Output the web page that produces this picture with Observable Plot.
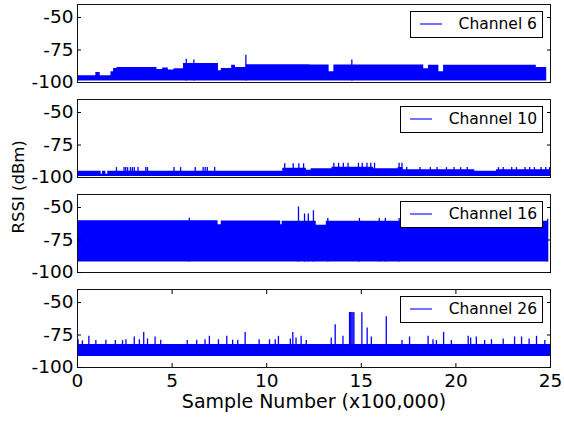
<!DOCTYPE html>
<html>
<head>
<meta charset="utf-8">
<script src="https://cdn.jsdelivr.net/npm/d3@7"></script>
<script src="https://cdn.jsdelivr.net/npm/@observablehq/plot@0.6"></script>
<style>
  body { margin: 0; background: #fff; }
  #chart { position: relative; width: 564px; height: 423px; font-family: "DejaVu Sans", sans-serif; }
  .legend {
    position: absolute; box-sizing: border-box; height: 27px;
    border: 1px solid #000; background: #fff; color: #000;
    display: flex; align-items: center; font-size: 15.5px;
    padding: 0 5px 0 9px; white-space: nowrap;
  }
  .legend .swatch { width: 22px; height: 2px; background: rgba(0, 0, 255, 0.55); margin-right: 17px; }
</style>
</head>
<body>
<div id="chart"></div>
<script>
// RSSI recordings on four IEEE 802.15.4 channels, sample index in units of 100,000.
const channels = ["Channel 6", "Channel 10", "Channel 16", "Channel 26"];

// Lower edge of the dense RSSI band per channel (dBm)
const floors = [-98.8, -99.2, -92, -91.5];

// Upper edge of the band: step breakpoints (x100,000 samples) and the level after each break (dBm)
const ch6Edges = [0, 0.05, 0.97, 1.2, 1.77, 1.91, 2.09, 4.2, 4.5, 4.8, 5.1, 5.6, 7.45, 7.6, 8.15, 8.35, 8.93, 12.3, 13.3, 13.55, 18.3, 18.55, 19.1, 19.35, 24.25, 24.8];
const ch6Tops  = [-86, -94.8, -92.3, -94.8, -91.8, -89.2, -88.5, -90, -88.8, -90.3, -89.5, -85.3, -91, -89.2, -86.7, -88.5, -86.3, -86.5, -91.8, -86.5, -89.5, -86.8, -91.8, -86.8, -88.5];

const ch10Edges = [0, 1.25, 1.32, 1.5, 1.6, 10.85, 12.1, 12.35, 13.45, 15.65, 16.95, 17.2, 21.0, 22.15, 25];
const ch10Tops  = [-95.2, -97.5, -95.2, -97.5, -95.2, -92.9, -94.5, -93.2, -92.2, -93.2, -92.4, -94.1, -95.2, -94.1];

const ch16Edges = [0, 7.43, 7.6, 10.74, 10.82, 12.62, 13.15, 24.88];
const ch16Tops  = [-60.2, -63.2, -60.3, -63.2, -60.6, -63.7, -60.5];

const ch26Edges = [0, 25];
const ch26Tops  = [-82.3];

// Isolated peaks above the band: sample position and peak level
const ch6SpikeX   = [5.75, 6.15, 8.9, 14.5];
const ch6SpikeTop = [-82.1, -82.6, -79, -82.6];

const ch10SpikeX   = [2.06, 2.46, 2.55, 2.65, 2.8, 2.9, 3.0, 3.2, 3.61, 3.7, 5.1, 5.45, 6.22, 6.64, 6.75, 6.86, 7.25, 10.95, 11.4, 11.7, 11.95, 13.55, 13.8, 14.05, 14.3, 14.85, 15.05, 15.3, 15.5, 15.7, 17.0, 17.15, 17.4, 18.1, 18.65, 19.0, 19.5, 19.9, 20.25, 20.6, 22.25, 22.5, 22.95, 23.2, 23.65, 23.9, 24.15, 24.5, 24.75, 24.95];
const ch10SpikeTop = [-92.4, -92.4, -92.4, -92.4, -92.4, -92.4, -92.4, -92.4, -92.4, -92.4, -92.4, -92.4, -92.4, -92.4, -92.4, -92.4, -92.4, -89.5, -89.5, -89.5, -89.5, -89, -89, -89, -89, -89, -89, -89, -89, -89, -89, -89, -92.4, -92.4, -92.4, -92.4, -92.4, -92.4, -92.4, -92.4, -92.4, -92.4, -92.4, -92.4, -92.4, -92.4, -92.4, -92.4, -92.4, -92.4];

const ch16SpikeX   = [5.91, 11.68, 12.0, 12.2, 12.47, 13.23, 14.9, 15.95, 16.27, 17.0, 24.85];
const ch16SpikeTop = [-58.3, -49.5, -55, -55, -52.5, -58.4, -58.4, -58.4, -58.4, -58.4, -59];

const ch26SpikeX   = [0.03, 0.26, 0.6, 0.97, 1.5, 2.0, 2.38, 2.56, 3.0, 3.27, 3.5, 3.7, 4.1, 4.4, 5.8, 6.3, 6.74, 6.97, 7.45, 7.89, 8.2, 8.47, 8.86, 9.6, 10.15, 10.45, 10.62, 11.25, 11.38, 11.55, 11.82, 12.09, 13.41, 13.62, 14.03, 14.38, 14.44, 14.5, 14.56, 14.61, 15.03, 15.31, 15.53, 16.32, 17.15, 17.55, 18.53, 18.79, 18.97, 19.35, 19.76, 20.65, 20.78, 21.08, 21.52, 21.88, 22.5, 23.1, 23.47, 23.87, 24.26, 24.7];
const ch26SpikeTop = [-78.6, -79.5, -76, -79.3, -79, -79.3, -79.3, -78.6, -76.5, -78.6, -73, -78, -76.5, -79, -79.3, -79, -78.6, -76, -78.6, -76, -79, -79, -73, -78.6, -78.6, -78.6, -76, -78, -73, -77.3, -76, -79.3, -77.3, -67.2, -76, -57.6, -57.6, -57.6, -57.6, -57.8, -57.8, -69.7, -76.5, -61, -79.3, -76.5, -76, -78.6, -79.3, -73, -79.3, -76, -77.3, -76.5, -79.3, -78.6, -78, -76.5, -76.5, -78, -76, -79.3];

// Axis ticks and labels
const xTicks = [0, 5, 10, 15, 20, 25];
const yTicks = [-100, -75, -50];
const xLabel = "Sample Number (x100,000)";
const yLabel = "RSSI (dBm)";

// Assemble tables for Plot
const edges = [ch6Edges, ch10Edges, ch16Edges, ch26Edges];
const tops = [ch6Tops, ch10Tops, ch16Tops, ch26Tops];
const spikeXs = [ch6SpikeX, ch10SpikeX, ch16SpikeX, ch26SpikeX];
const spikeTops = [ch6SpikeTop, ch10SpikeTop, ch16SpikeTop, ch26SpikeTop];

const band = channels.flatMap((channel, i) =>
  edges[i].map((x, j) => ({channel, x, top: tops[i][Math.min(j, tops[i].length - 1)], floor: floors[i]}))
);
const spikes = channels.flatMap((channel, i) =>
  spikeXs[i].map((x, j) => ({channel, x, top: spikeTops[i][j], base: floors[i]}))
);

const blue = "#0000ff";
const fmt = (d) => String(d);  // plain hyphen minus
const blank = () => "";

const plot = Plot.plot({
  width: 564,
  height: 423,
  marginTop: 2,
  marginBottom: 55,
  marginLeft: 77,
  marginRight: 14,
  style: {fontFamily: '"DejaVu Sans", sans-serif', fontSize: "18.5px", background: "#fff", color: "#000", overflow: "visible"},
  x: {domain: [0, 25]},
  y: {domain: [-100, -40]},
  fy: {domain: channels, axis: null, paddingInner: 0.18, paddingOuter: 0},
  marks: [
    Plot.areaY(band, {x: "x", y1: "floor", y2: "top", fy: "channel", curve: "step-after", fill: blue}),
    Plot.ruleX(spikes, {x: "x", y1: "base", y2: "top", fy: "channel", stroke: blue, strokeWidth: 1.3}),
    Plot.frame({stroke: "#111"}),
    Plot.axisY({ticks: yTicks, tickSize: 0, tickPadding: 4, tickFormat: fmt, label: null}),
    Plot.axisY({ticks: yTicks, tickSize: 4, dx: 4, tickFormat: blank, label: null}),
    Plot.axisY({ticks: yTicks, anchor: "right", tickSize: 4, dx: -4, tickFormat: blank, label: null}),
    Plot.axisX({ticks: xTicks, tickSize: 0, tickPadding: 6, tickFormat: fmt, label: null}),
    Plot.axisX({ticks: xTicks, tickSize: 4, dy: -4, tickFormat: blank, label: null}),
    Plot.axisX({ticks: xTicks, anchor: "top", facetAnchor: "bottom", tickSize: 4, dy: 4, tickFormat: blank, label: null}),
    Plot.text([xLabel], {text: (d) => d, fy: ["Channel 26"], frameAnchor: "bottom", lineAnchor: "top", dy: 27, fontSize: 19}),
    Plot.text([yLabel], {text: (d) => d, fy: ["Channel 16"], frameAnchor: "left", dx: -59, rotate: -90, fontSize: 16.5})
  ]
});

const chart = document.getElementById("chart");
chart.appendChild(plot);

// Legend boxes in the upper-right corner of each panel
const fy = plot.scale("fy");
const x = plot.scale("x");
const frameRight = x.range[1];
channels.forEach((channel) => {
  const top = fy.apply(channel);
  const box = document.createElement("div");
  box.className = "legend";
  box.style.top = (top + 6.5) + "px";
  box.style.right = (564 - frameRight + 7) + "px";
  const swatch = document.createElement("span");
  swatch.className = "swatch";
  const label = document.createElement("span");
  label.textContent = channel;
  box.append(swatch, label);
  chart.appendChild(box);
});
</script>
</body>
</html>
